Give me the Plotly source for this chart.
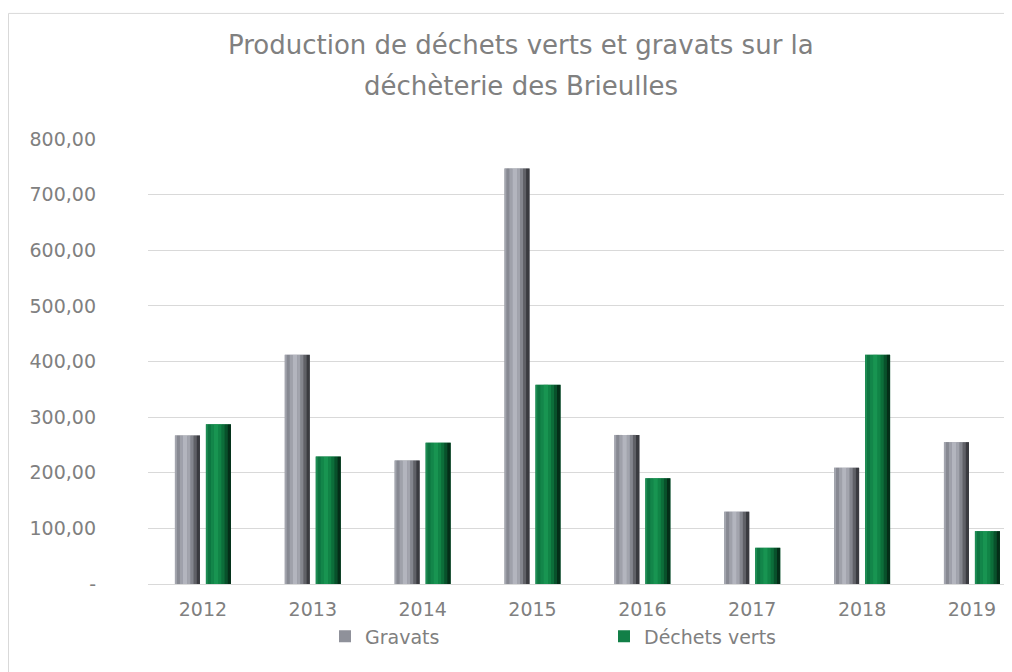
import plotly.graph_objects as go

years = ["2012", "2013", "2014", "2015", "2016", "2017", "2018", "2019"]
gravats = [267, 412, 222, 747, 268, 130, 209, 255]
dechets_verts = [287, 229, 254, 358, 190, 65, 412, 95]
y_tickvals = [0, 100, 200, 300, 400, 500, 600, 700, 800]
y_ticktext = ["-", "100,00", "200,00", "300,00", "400,00", "500,00", "600,00", "700,00", "800,00"]
title_lines = ["Production de déchets verts et gravats sur la", "déchèterie des Brieulles"]

# the page adds an 8px body margin, so the figure is sized to fit the window
W, H = 1004, 664
L, T = 140, 131
B = H - 575.7
cat_px = 109.86
plot_w = W - L
plot_h = H - T - B
x_hi = -0.5 + plot_w / cat_px

FONT = "DejaVu Sans, sans-serif"
TXT = "#808080"

bar_w = 0.228
offsets = {"Gravats": -0.255, "Déchets verts": 0.027}

grad = {
    "Gravats": [(0.0, 1.0, "#8f919a"), (0.0, 0.08, "#a3a5ae"), (0.08, 0.2, "#878992"),
                (0.2, 0.32, "#9fa1aa"), (0.32, 0.5, "#b3b5be"), (0.5, 0.62, "#a2a4ad"),
                (0.62, 0.74, "#84868e"), (0.74, 0.86, "#606167"), (0.86, 1.0, "#3a3b40")],
    "Déchets verts": [(0.0, 1.0, "#127f47"), (0.0, 0.08, "#1d8c53"), (0.08, 0.2, "#0e7641"),
                      (0.2, 0.32, "#13864a"), (0.32, 0.5, "#189451"), (0.5, 0.62, "#118446"),
                      (0.62, 0.74, "#0c6e3a"), (0.74, 0.86, "#08512b"), (0.86, 1.0, "#042e18")],
}
series = {"Gravats": gravats, "Déchets verts": dechets_verts}

fig = go.Figure()
for name, vals in series.items():
    for i, (a, b, col) in enumerate(grad[name]):
        fig.add_trace(go.Bar(
            x=years, y=vals, name=name,
            width=bar_w * (b - a), offset=offsets[name] + bar_w * a,
            marker=dict(color=col, line=dict(width=0)),
            showlegend=(i == 0), legendgroup=name,
        ))

annotations = []
for k, (line, yc) in enumerate(zip(title_lines, [37, 78])):
    annotations.append(dict(
        text=line, xref="paper", yref="paper",
        x=(513 - L) / plot_w, y=((H - B) - yc) / plot_h,
        xanchor="center", yanchor="middle", showarrow=False,
        font=dict(size=26, color=TXT, family=FONT),
    ))

fig.update_layout(
    width=W, height=H,
    barmode="overlay",
    paper_bgcolor="white", plot_bgcolor="white",
    margin=dict(l=L, r=0, t=T, b=B),
    font=dict(family=FONT, color=TXT),
    annotations=annotations,
    xaxis=dict(
        type="category", range=[-0.5, x_hi], showgrid=False, zeroline=False,
        showline=True, linecolor="#d9d9d9", linewidth=1,
        ticks="", tickfont=dict(size=19, color=TXT), ticklabelstandoff=8,
    ),
    yaxis=dict(
        range=[0, 800], tickvals=y_tickvals, ticktext=y_ticktext,
        showgrid=True, gridcolor="#d9d9d9", gridwidth=1, zeroline=False,
        ticks="", tickfont=dict(size=19, color=TXT), ticklabelstandoff=51,
    ),
    legend=dict(
        orientation="h", x=(317 - L) / plot_w, xanchor="left",
        y=-(628 - (H - B)) / plot_h, yanchor="middle",
        entrywidth=234, entrywidthmode="pixels",
        font=dict(size=19, color=TXT), bgcolor="rgba(0,0,0,0)",
        itemclick=False,
    ),
    shapes=[dict(type="rect", xref="paper", yref="paper",
                 x0=(0.5 - L) / plot_w, x1=1.2,
                 y0=-0.5, y1=((H - B) - 5.5) / plot_h,
                 line=dict(color="#d9d9d9", width=1), fillcolor="rgba(0,0,0,0)",
                 layer="below")],
)

fig.write_html("out.html")
